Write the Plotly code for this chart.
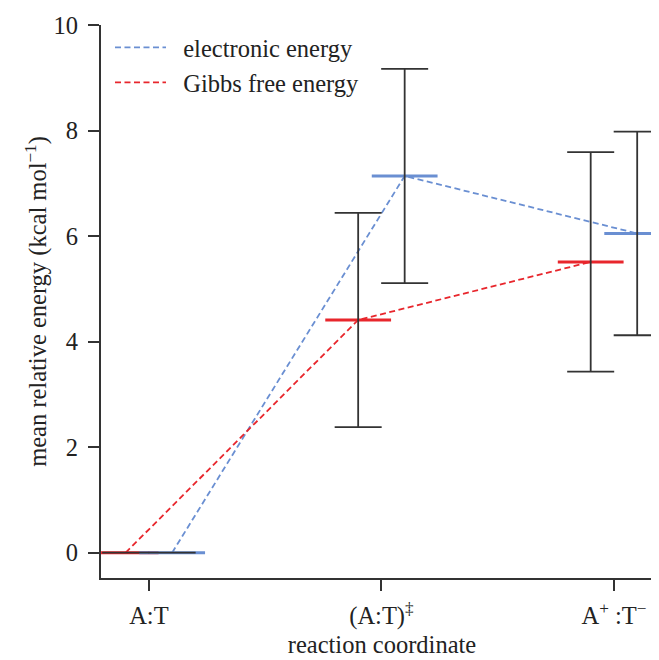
import plotly.graph_objects as go

# ---- data ----
categories = ["A:T", "(A:T)<sup>‡</sup>", "A<sup>+</sup> :T<sup>−</sup>"]
electronic = [0.0, 7.14, 6.05]
electronic_err = [0.0, 2.03, 1.93]
gibbs = [0.0, 4.41, 5.51]
gibbs_err = [0.0, 2.03, 2.08]
y_ticks = [0, 2, 4, 6, 8, 10]
series_names = ["electronic energy", "Gibbs free energy"]

# ---- style ----
BLUE = "#6a8fd2"
RED = "#e8262c"
DARK = "#333333"
FONT = "Liberation Serif"
FS = 24.5
OFFSET = 0.1
PAD = "\u00a0\u00a0"

idx = list(range(len(categories)))
x_gibbs = [i - OFFSET for i in idx]
x_elec = [i + OFFSET for i in idx]

fig = go.Figure()

# dashed connecting lines (legend entries)
fig.add_trace(go.Scatter(x=x_elec, y=electronic, mode="lines", name=PAD + series_names[0],
                         line=dict(color=BLUE, width=1.8, dash="6px,3.5px")))
fig.add_trace(go.Scatter(x=x_gibbs, y=gibbs, mode="lines", name=PAD + series_names[1],
                         line=dict(color=RED, width=1.8, dash="6px,3.5px")))

# level markers
for xs, ys, col in [(x_gibbs, gibbs, RED), (x_elec, electronic, BLUE)]:
    fig.add_trace(go.Scatter(
        x=xs, y=ys, mode="markers", showlegend=False,
        marker=dict(symbol="line-ew", size=47, color=col, line=dict(color=col, width=3)),
    ))
# error bars drawn on top
for xs, ys, errs in [(x_gibbs, gibbs, gibbs_err), (x_elec, electronic, electronic_err)]:
    fig.add_trace(go.Scatter(
        x=xs, y=ys, mode="markers", showlegend=False,
        marker=dict(size=1, color="rgba(0,0,0,0)"),
        error_y=dict(type="data", array=errs, visible=True, color=DARK, thickness=1.8, width=23.5),
    ))

font = dict(family=FONT, size=FS, color="#222222")
fig.update_layout(
    width=659, height=660,
    margin=dict(l=93, r=4, t=13, b=90),
    plot_bgcolor="white", paper_bgcolor="white",
    font=font,
    showlegend=True,
    legend=dict(x=0.016, y=1.0, xanchor="left", yanchor="top", bgcolor="rgba(0,0,0,0)",
                font=font, itemwidth=51, tracegroupgap=0),
)
fig.update_xaxes(
    range=[-0.206, 2.211], tickmode="array", tickvals=idx, ticktext=categories,
    tickfont=font, ticklabelstandoff=4, ticklabeloverflow="allow",
    showline=True, linecolor=DARK, linewidth=2, ticks="outside", ticklen=11, tickwidth=2,
    tickcolor=DARK, showgrid=False, zeroline=False,
    title=dict(text="reaction coordinate", standoff=6, font=font),
)
fig.update_yaxes(
    range=[-0.48, 10], tickmode="array", tickvals=y_ticks,
    tickfont=font, ticklabelstandoff=5, ticklabeloverflow="allow",
    showline=True, linecolor=DARK, linewidth=2, ticks="outside", ticklen=11, tickwidth=2,
    tickcolor=DARK, showgrid=False, zeroline=False,
    title=dict(text="mean relative energy (kcal mol<sup>−1</sup>)", standoff=0, font=font),
)

fig.write_html("out.html")
